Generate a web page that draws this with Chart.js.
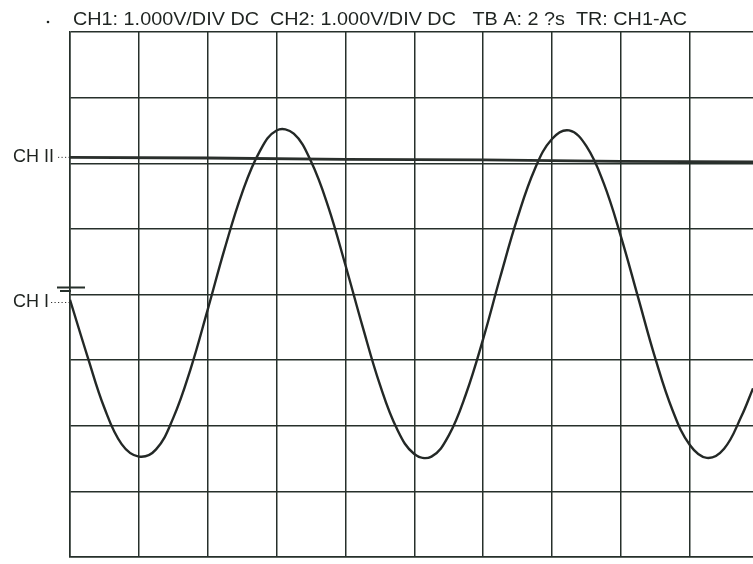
<!DOCTYPE html>
<html>
<head>
<meta charset="utf-8">
<script src="https://cdn.jsdelivr.net/npm/chart.js@4.4.1/dist/chart.umd.min.js"></script>
<style>
  body { margin: 0; background: #fff; }
  canvas { display: block; }
</style>
</head>
<body>
<canvas id="scope" width="753" height="564"></canvas>
<script>
const tiempo = [0, 0.25, 0.5, 0.75, 1, 1.25, 1.5, 1.75, 2, 2.25, 2.5, 2.75, 3, 3.25, 3.5, 3.75,
  4, 4.25, 4.5, 4.75, 5, 5.25, 5.5, 5.75, 6, 6.25, 6.5, 6.75, 7, 7.25, 7.5, 7.75,
  8, 8.25, 8.5, 8.75, 9, 9.25, 9.5, 9.75, 9.92];
const canal1 = [-0.08, -0.93, -1.73, -2.28, -2.47, -2.36, -1.88, -1.14, -0.23, 0.71, 1.55, 2.17, 2.5, 2.45, 2.03, 1.34,
  0.45, -0.49, -1.37, -2.05, -2.43, -2.47, -2.15, -1.52, -0.68, 0.27, 1.17, 1.91, 2.37, 2.5, 2.26, 1.7,
  0.89, -0.04, -0.97, -1.76, -2.29, -2.49, -2.35, -1.86, -1.43];
const tiempoCh2 = [0, 2, 4, 6, 8, 9.92];
const canal2 = [2.09, 2.08, 2.06, 2.05, 2.03, 2.02];

const divX = [0, 9.92];
const divY = [-4, 4];

const encabezado = 'CH1: 1.000V/DIV DC  CH2: 1.000V/DIV DC   TB A: 2 ?s  TR: CH1-AC';
const etiquetaCh1 = 'CH I';
const etiquetaCh2 = 'CH II';

const tinta = '#26302b';

// Textos y marca de tierra dibujados encima de la grafica
const textos = {
  id: 'textos',
  afterDraw(chart) {
    const c = chart.ctx;
    const y = chart.scales.y;
    c.save();
    c.fillStyle = '#1e2320';
    c.textBaseline = 'alphabetic';

    // encabezado, ajustado al ancho de la impresion
    c.font = '19px "Liberation Sans", Arial, sans-serif';
    const ancho = c.measureText(encabezado).width;
    c.save();
    c.translate(73, 25);
    c.scale(614 / ancho, 1);
    c.fillText(encabezado, 0, 0);
    c.restore();
    c.beginPath();
    c.arc(48, 22, 1.3, 0, Math.PI * 2);
    c.fill();

    // etiquetas de canal
    c.font = '18px "Liberation Sans", Arial, sans-serif';
    c.textBaseline = 'middle';
    const y2 = y.getPixelForValue(canal2[0]);
    const y1 = y.getPixelForValue(0) + 8;
    c.fillText(etiquetaCh2, 13, y2);
    c.fillText(etiquetaCh1, 13, y1);

    c.strokeStyle = '#333';
    c.lineWidth = 1;
    c.setLineDash([1.2, 2.3]);
    c.beginPath();
    c.moveTo(58, y2); c.lineTo(70, y2);
    c.moveTo(51, y1); c.lineTo(70, y1);
    c.stroke();
    c.setLineDash([]);

    // simbolo de tierra CH1
    const yt = y.getPixelForValue(0) - 7;
    c.strokeStyle = tinta;
    c.lineWidth = 2;
    c.beginPath();
    c.moveTo(57, yt); c.lineTo(85, yt);
    c.moveTo(60, yt + 3.5); c.lineTo(71, yt + 3.5);
    c.stroke();
    c.restore();
  }
};

const ctx = document.getElementById('scope');

let scopeData = {
  type: 'line',
  data: {
    datasets: [{
      label: 'CH2',
      data: tiempoCh2.map((t, i) => ({ x: t, y: canal2[i] })),
      borderColor: '#2a2f2c',
      borderWidth: 2.8,
      pointRadius: 0,
      tension: 0
    }, {
      label: 'CH1',
      data: tiempo.map((t, i) => ({ x: t, y: canal1[i] })),
      borderColor: '#232826',
      borderWidth: 2.4,
      pointRadius: 0,
      tension: 0.4
    }]
  },
  options: {
    responsive: false,
    animation: false,
    layout: { padding: { left: 70, top: 32, right: 0, bottom: 7 } },
    plugins: {
      legend: { display: false },
      tooltip: { enabled: false }
    },
    scales: {
      x: {
        type: 'linear',
        min: divX[0],
        max: divX[1],
        ticks: { display: false, stepSize: 1, includeBounds: false },
        grid: { color: tinta, lineWidth: 1.5, drawTicks: false },
        border: { color: tinta, width: 1.5 },
        afterFit(s) { s.height = 0; }
      },
      y: {
        min: divY[0],
        max: divY[1],
        ticks: { display: false, stepSize: 1 },
        grid: { color: tinta, lineWidth: 1.5, drawTicks: false },
        border: { color: tinta, width: 1.5 },
        afterFit(s) { s.width = 0; }
      }
    }
  },
  plugins: [textos]
};

let scope = new Chart(ctx, scopeData);
</script>
</body>
</html>
